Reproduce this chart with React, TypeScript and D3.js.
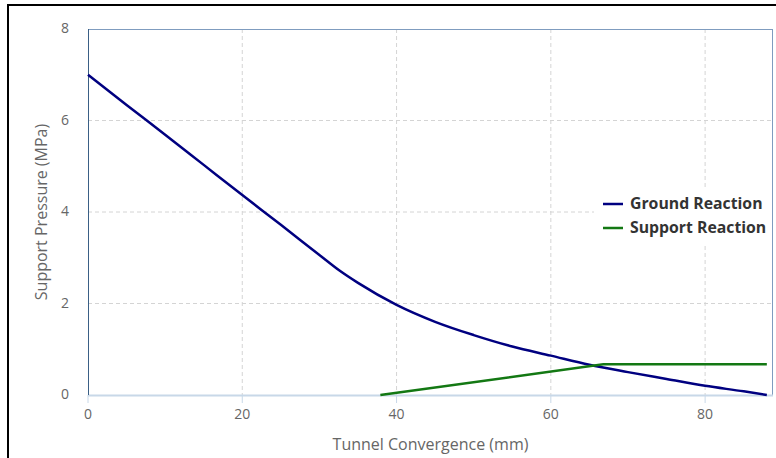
import React from "react";
import { scaleLinear, line, curveMonotoneX } from "d3";

// ground reaction curve (mm, MPa)
const groundX = [0, 5, 10, 15, 20, 25, 30, 32.6, 35, 40, 45, 50, 55, 60, 65, 70, 75, 80, 85, 88];
const groundY = [7.0, 6.34, 5.69, 5.03, 4.37, 3.72, 3.06, 2.72, 2.45, 1.97, 1.6, 1.31, 1.06, 0.86, 0.66, 0.5, 0.35, 0.2, 0.08, 0.0];

// support reaction
const supportX = [37.9, 66.8, 88];
const supportY = [0, 0.67, 0.67];

const xTicks = [0, 20, 40, 60, 80];
const yTicks = [0, 2, 4, 6, 8];
const seriesNames = ["Ground Reaction", "Support Reaction"];
const seriesColors = ["#000080", "#137813"];

const W = 776;
const H = 458;
const left = 88, right = 773, top = 29, bottom = 395;
const font = "'Open Sans', 'Noto Sans', sans-serif";

export default function App() {
  const x = scaleLinear().domain([0, 88.8]).range([left, right]);
  const y = scaleLinear().domain([0, 8]).range([bottom, top]);

  const groundPath = line<[number, number]>()
    .x((d) => x(d[0]))
    .y((d) => y(d[1]))
    .curve(curveMonotoneX)(groundX.map((v, i) => [v, groundY[i]]));
  const supportPath = line<[number, number]>()
    .x((d) => x(d[0]))
    .y((d) => y(d[1]))(supportX.map((v, i) => [v, supportY[i]]));

  return (
    <svg
      width={W}
      height={H}
      style={{ position: "fixed", left: 0, top: 0, background: "#fff" }}
      fontFamily={font}
    >
      {/* outer black frame */}
      <line x1={8} y1={5} x2={W} y2={5} stroke="#000" strokeWidth={2} />
      <line x1={8} y1={4} x2={8} y2={H} stroke="#000" strokeWidth={2} />

      {/* grid */}
      {xTicks.filter((t) => t > 0).map((t) => (
        <line key={"gx" + t} x1={x(t)} x2={x(t)} y1={top} y2={bottom} stroke="#d4d4d4" strokeDasharray="4,3" />
      ))}
      {yTicks.filter((t) => t > 0 && t < 8).map((t) => (
        <line key={"gy" + t} x1={left} x2={right} y1={y(t)} y2={y(t)} stroke="#d4d4d4" strokeDasharray="4,3" />
      ))}

      {/* frame */}
      <line x1={left} x2={right} y1={top + 0.5} y2={top + 0.5} stroke="#7f9cbf" />
      <line x1={right - 0.5} x2={right - 0.5} y1={top} y2={bottom} stroke="#7f9cbf" />
      <line x1={left} x2={right} y1={bottom + 0.5} y2={bottom + 0.5} stroke="#c8d8e8" strokeWidth={2} />
      <line x1={left + 0.5} x2={left + 0.5} y1={top} y2={bottom} stroke="#3a5f85" />

      {/* x ticks */}
      {xTicks.map((t) => (
        <g key={"xt" + t}>
          <line x1={x(t)} x2={x(t)} y1={bottom} y2={bottom + 8} stroke="#c8d8e8" />
          <text x={x(t)} y={bottom + 24} textAnchor="middle" fontSize={14} fill="#666">{t}</text>
        </g>
      ))}
      {yTicks.map((t) => (
        <text key={"yt" + t} x={69} y={y(t) + 4} textAnchor="end" fontSize={14} fill="#666">{t}</text>
      ))}

      {/* axis titles */}
      <text x={(left + right) / 2} y={450} textAnchor="middle" fontSize={16} fill="#666">Tunnel Convergence (mm)</text>
      <text transform={`translate(47,${(top + bottom) / 2}) rotate(-90)`} textAnchor="middle" fontSize={16} fill="#666">Support Pressure (MPa)</text>

      {/* series */}
      <path d={groundPath || ""} fill="none" stroke={seriesColors[0]} strokeWidth={2.5} />
      <path d={supportPath || ""} fill="none" stroke={seriesColors[1]} strokeWidth={2.5} />

      {/* legend */}
      <rect x={594} y={187} width={178} height={56} fill="#fff" />
      {seriesNames.map((n, i) => (
        <g key={n} transform={`translate(603,${204 + i * 24})`}>
          <line x1={0} x2={20} y1={0} y2={0} stroke={seriesColors[i]} strokeWidth={2.5} />
          <text x={27} y={5} fontSize={15.8} fontWeight="bold" fill="#333">{n}</text>
        </g>
      ))}
    </svg>
  );
}
